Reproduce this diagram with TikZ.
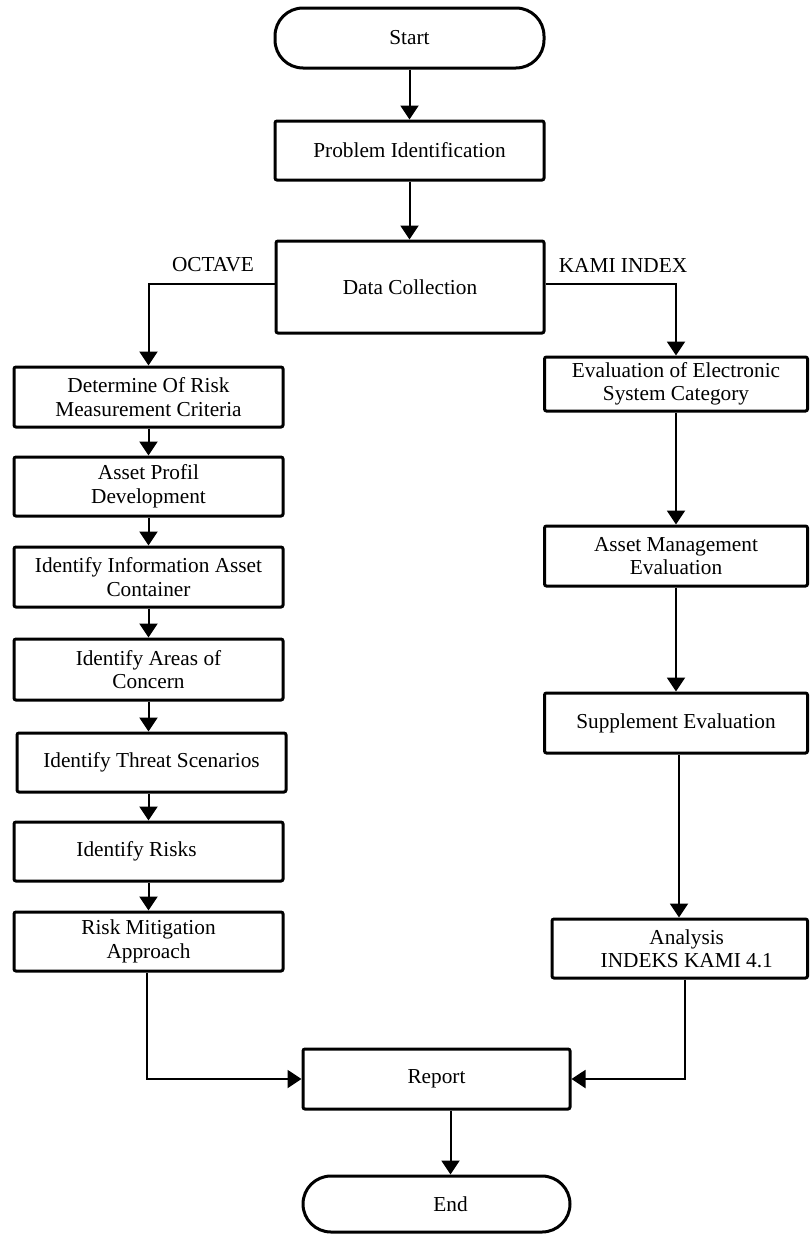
\documentclass[tikz,border=0pt]{standalone}
\usepackage{fontspec}
\setmainfont{Liberation Serif}
\usetikzlibrary{arrows.meta}
\begin{document}
\begin{tikzpicture}[x=1pt,y=-1pt,
  every node/.style={font=\fontsize{21.3pt}{23.5pt}\selectfont},
  box/.style={draw,line width=3pt,rounded corners=2pt,align=center,inner sep=0pt},
  term/.style={draw,line width=3pt,rounded corners=28pt,align=center,inner sep=0pt},
  arr/.style={line width=2pt,-{Triangle[length=14pt,width=18pt]}},
  link/.style={line width=2pt}]
\clip (0,0) rectangle (809,1234);
\fill[white] (0,0) rectangle (809,1234);
% main column
\node[term,minimum width=269pt,minimum height=60pt] (start) at (409.5,38) {Start};
\node[box,minimum width=269pt,minimum height=59pt] (prob) at (409.5,150.5) {Problem Identification};
\node[box,minimum width=268pt,minimum height=92pt] (data) at (410,287) {Data Collection};
\node (oct) at (213,265) {OCTAVE};
\node (kami) at (623,265) {KAMI INDEX};
% left column
\node[box,minimum width=269pt,minimum height=60pt] (d1) at (148.5,397) {Determine Of Risk\\Measurement Criteria};
\node[box,minimum width=269pt,minimum height=59pt] (d2) at (148.5,486.5) {Asset Profil\\Development};
\node[box,minimum width=269pt,minimum height=60pt] (d3) at (148.5,577) {Identify Information Asset\\Container};
\node[box,minimum width=269pt,minimum height=61pt] (d4) at (148.5,669.5) {Identify Areas of\\Concern};
\node[box,minimum width=269pt,minimum height=59pt] (d5) at (151.5,762.5) {Identify Threat Scenarios};
\node[box,minimum width=269pt,minimum height=59pt] (d6) at (148.5,851.5) {Identify Risks\hspace*{24pt}};
\node[box,minimum width=269pt,minimum height=59pt] (d7) at (148.5,941.5) {Risk Mitigation\\Approach};
% right column
\node[box,minimum width=263pt,minimum height=54pt] (r1) at (676,384) {Evaluation of Electronic\\System Category};
\node[box,minimum width=263pt,minimum height=60pt] (r2) at (676,556) {Asset Management\\Evaluation};
\node[box,minimum width=263pt,minimum height=60pt] (r3) at (676,723) {Supplement Evaluation};
\node[box,minimum width=255.5pt,minimum height=59pt] (r4) at (679.75,948.5) {\hspace*{14pt}Analysis\\\hspace*{14pt}INDEKS KAMI 4.1};
% bottom
\node[box,minimum width=267pt,minimum height=60pt] (report) at (436.5,1079) {Report};
\node[term,minimum width=267pt,minimum height=56pt] (end) at (436.5,1204) {\hspace*{28pt}End};
% connectors
\draw[arr] (start.south) -- (prob.north);
\draw[arr] (prob.south) -- (prob.south |- data.north);
\draw[arr] ([yshift=3pt]data.west) -| (d1.north);
\draw[arr] ([yshift=3pt]data.east) -| (r1.north);
\draw[arr] (d1.south) -- (d2.north);
\draw[arr] (d2.south) -- (d3.north);
\draw[arr] (d3.south) -- (d4.north);
\draw[arr] (d4.south) -- (d4.south |- d5.north);
\draw[arr] (d6.north |- d5.south) -- (d6.north);
\draw[arr] (d6.south) -- (d7.north);
\draw[arr] (r1.south) -- (r2.north);
\draw[arr] (r2.south) -- (r3.north);
\draw[arr] ([xshift=3pt]r3.south) -- ([xshift=3pt]r3.south |- r4.north);
\draw[arr] ([xshift=-1.5pt]d7.south) |- (report.west);
\draw[arr] ([xshift=5pt]r4.south) |- (report.east);
\draw[arr] ([xshift=14pt]report.south) -- ([xshift=14pt]report.south |- end.north);
\end{tikzpicture}
\end{document}
